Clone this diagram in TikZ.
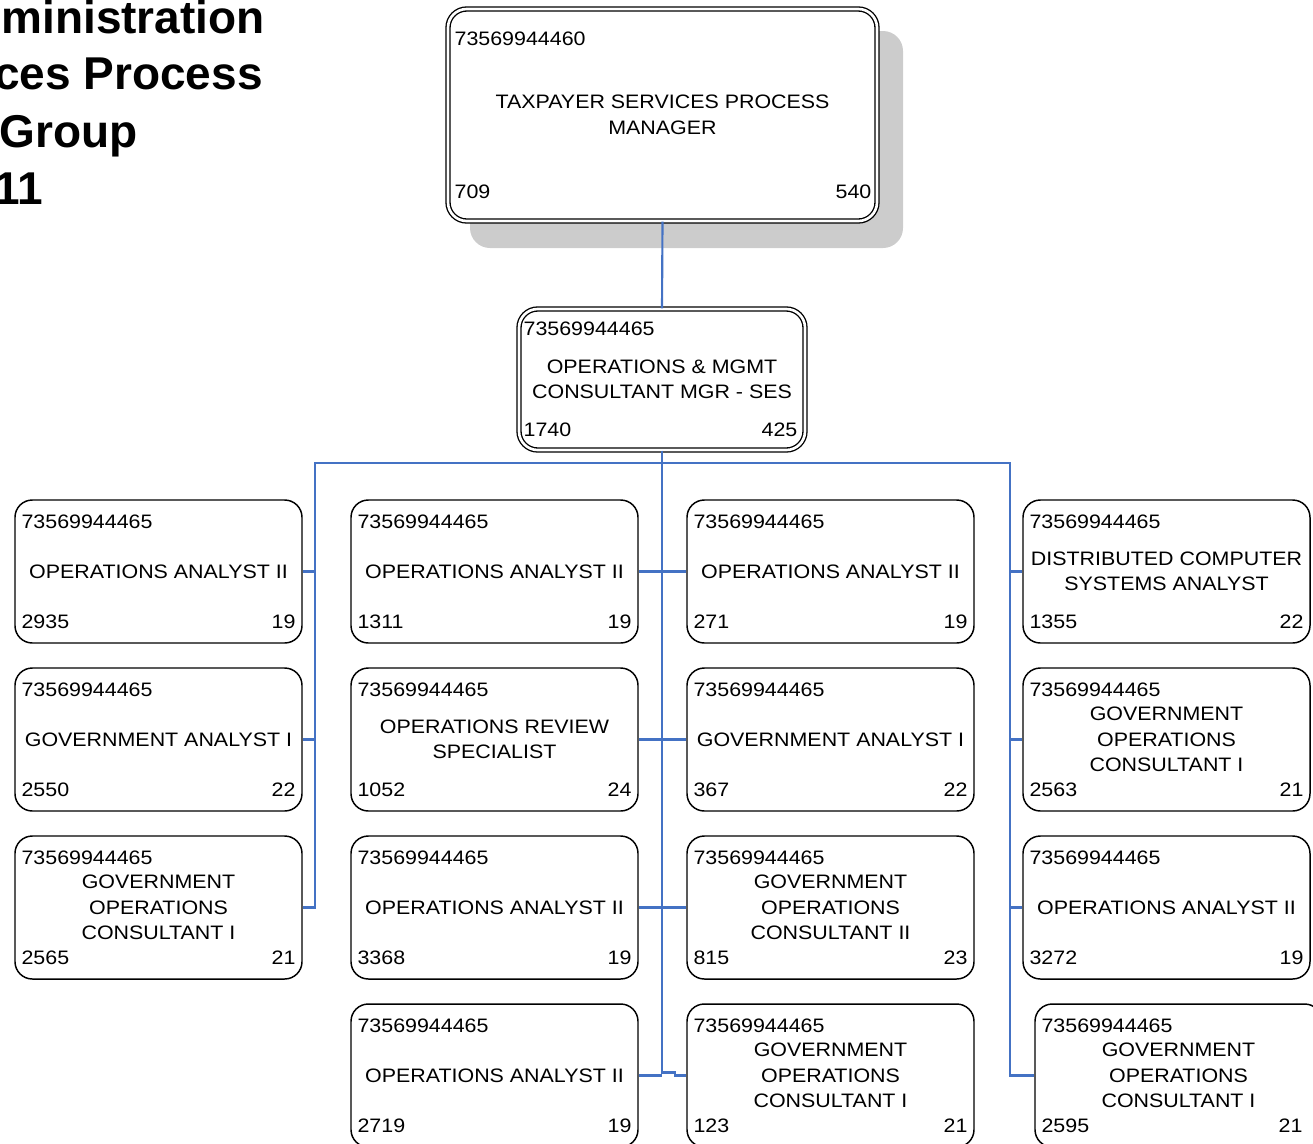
\documentclass[tikz,border=0pt]{standalone}
\usepackage{fontspec}
\setmainfont{Liberation Sans}[FakeStretch=1.10]
\newfontfamily\headfont{Liberation Sans}
\usetikzlibrary{calc}
\definecolor{link}{HTML}{4472C4}
\definecolor{shade}{HTML}{CCCCCC}

% one position box: name, centre x, centre y, title, left number, right number
\newcommand\rinset{7}
\newcommand\posbox[6]{%
  \node[posbox] (#1) at (#2,#3) {};
  \node[lab, anchor=west] (#1-id) at ($(#1.north west)+(7,22.5)$) {73569944465};
  \node[lab, align=center] (#1-t) at (#1.center) {#4};
  \node[lab, anchor=west] (#1-l) at ($(#1.south west)+(7,-22)$) {#5};
  \node[lab, anchor=east] (#1-r) at ($(#1.south east)+(-\rinset,-22)$) {#6};
}

\begin{document}
\begin{tikzpicture}[x=0.75pt,y=-0.75pt,
  posbox/.style={draw=black, line width=1.1pt, rounded corners=13pt, fill=white,
    minimum width=215.25pt, minimum height=107.25pt, inner sep=0pt},
  mgrbox/.style={draw=black, line width=1pt, double=white, double distance=2pt,
    rounded corners=14pt, fill=white, inner sep=0pt},
  shadowbox/.style={fill=shade, rounded corners=15pt, inner sep=0pt,
    minimum width=324.75pt, minimum height=162.75pt},
  lab/.style={inner sep=0pt, font=\fontsize{14.6pt}{19.1pt}\selectfont},
  head/.style={inner sep=0pt, anchor=base east,
    font=\headfont\bfseries\fontsize{34.5pt}{42pt}\selectfont},
  conn/.style={draw=link, line width=1.6pt}]

\useasboundingbox (0,0) rectangle (1313,1143);
\clip (0,0) rectangle (1313,1143);

% heading, running off the left edge
\node[head] (h1) at (265,33) {ministration};
\node[head] (h2) at (263,89) {ces Process};
\node[head] (h3) at (138,147) {Group};
\node[head] (h4) at (43,204) {11};

% top position with its shadow
\node[shadowbox] (topshadow) at (686.5,139.5) {};
\node[mgrbox, minimum width=321.75pt, minimum height=159pt] (top) at (662.5,115) {};
\node[lab, anchor=west] (top-id) at ($(top.north west)+(7,30)$) {73569944460};
\node[lab, align=center] (top-t) at (top.center) {TAXPAYER SERVICES PROCESS\\MANAGER};
\node[lab, anchor=west] (top-l) at ($(top.south west)+(7,-30)$) {709};
\node[lab, anchor=east] (top-r) at ($(top.south east)+(-6,-30)$) {540};

% manager
\node[mgrbox, minimum width=214.5pt, minimum height=105.75pt] (mgr) at (662,379.5) {};
\node[lab, anchor=west] (mgr-id) at ($(mgr.north west)+(5,20)$) {73569944465};
\node[lab, align=center] (mgr-t) at (mgr.center) {OPERATIONS \& MGMT\\CONSULTANT MGR - SES};
\node[lab, anchor=west] (mgr-l) at ($(mgr.south west)+(5,-21)$) {1740};
\node[lab, anchor=east] (mgr-r) at ($(mgr.south east)+(-8,-21)$) {425};

% staff positions
\posbox{c1r1}{158.5}{571.5}{OPERATIONS ANALYST II}{2935}{19}
\posbox{c1r2}{158.5}{739.5}{GOVERNMENT ANALYST I}{2550}{22}
\posbox{c1r3}{158.5}{907.5}{GOVERNMENT\\OPERATIONS\\CONSULTANT I}{2565}{21}

\posbox{c2r1}{494.5}{571.5}{OPERATIONS ANALYST II}{1311}{19}
\posbox{c2r2}{494.5}{739.5}{OPERATIONS REVIEW\\SPECIALIST}{1052}{24}
\posbox{c2r3}{494.5}{907.5}{OPERATIONS ANALYST II}{3368}{19}
\posbox{c2r4}{494.5}{1075.5}{OPERATIONS ANALYST II}{2719}{19}

\posbox{c3r1}{830.5}{571.5}{OPERATIONS ANALYST II}{271}{19}
\posbox{c3r2}{830.5}{739.5}{GOVERNMENT ANALYST I}{367}{22}
\posbox{c3r3}{830.5}{907.5}{GOVERNMENT\\OPERATIONS\\CONSULTANT II}{815}{23}
\posbox{c3r4}{830.5}{1075.5}{GOVERNMENT\\OPERATIONS\\CONSULTANT I}{123}{21}

\posbox{c4r1}{1166.5}{571.5}{DISTRIBUTED COMPUTER\\SYSTEMS ANALYST}{1355}{22}
\posbox{c4r2}{1166.5}{739.5}{GOVERNMENT\\OPERATIONS\\CONSULTANT I}{2563}{21}
\posbox{c4r3}{1166.5}{907.5}{OPERATIONS ANALYST II}{3272}{19}
\renewcommand\rinset{20}
\posbox{c4r4}{1178.5}{1075.5}{GOVERNMENT\\OPERATIONS\\CONSULTANT I}{2595}{21}

% connectors
\coordinate (busL) at (315,463);
\coordinate (busR) at (1010,463);
\coordinate (jog) at (662,1072.5);

\draw[conn] (top.south) -- (mgr.north);
\draw[conn] (c1r3.east) -| (busL) -- (busR) |- (c4r4.west);
\draw[conn] (mgr.south) -- (jog) -- ++(13,0) |- (c3r4.west);
\draw[conn] (c2r4.east) -- (c2r4.east -| jog);

\draw[conn] (c1r1.east) -- (c1r1.east -| busL);
\draw[conn] (c1r2.east) -- (c1r2.east -| busL);

\draw[conn] (c2r1.east) -- (c3r1.west);
\draw[conn] (c2r2.east) -- (c3r2.west);
\draw[conn] (c2r3.east) -- (c3r3.west);

\draw[conn] (c4r1.west) -- (c4r1.west -| busR);
\draw[conn] (c4r2.west) -- (c4r2.west -| busR);
\draw[conn] (c4r3.west) -- (c4r3.west -| busR);
\end{tikzpicture}
\end{document}
